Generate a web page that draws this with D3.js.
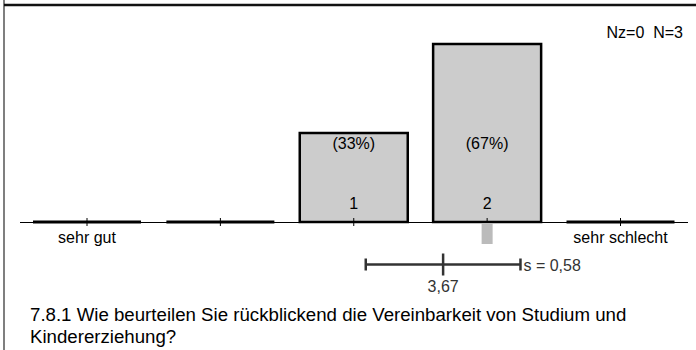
<!DOCTYPE html>
<html><head><meta charset="utf-8">
<script src="https://cdn.jsdelivr.net/npm/d3@7"></script>
<style>body{margin:0;background:#fff}svg{display:block;font-family:"Liberation Sans",Arial,sans-serif}</style>
</head><body><svg id="c" width="696" height="350"></svg>
<script>
const categories = [1, 2, 3, 4, 5];
const counts = [0, 0, 1, 2, 0];
const percents = ["", "", "(33%)", "(67%)", ""];
const endLabels = ["sehr gut", "", "", "", "sehr schlecht"];
const meanValue = [3.67];
const sdValue = [0.58];
const medianValue = [4];
const nInfo = ["Nz=0  N=3"];
const titleLines = ["7.8.1 Wie beurteilen Sie rückblickend die Vereinbarkeit von Studium und", "Kindererziehung?"];

const svg = d3.select("#c");
const x = d3.scaleLinear().domain([1, 5]).range([87, 620.5]);
const bw = 108;
const y = d3.scaleLinear().domain([0, 2]).range([222, 44]);
const base = y(0);

// frame
svg.append("line").attr("x1", 4).attr("x2", 4).attr("y1", 0).attr("y2", 350).attr("stroke", "#555").attr("stroke-width", 1.5);
svg.append("line").attr("x1", 4).attr("x2", 696).attr("y1", 5).attr("y2", 5).attr("stroke", "#111").attr("stroke-width", 2.5);

// axis baseline
svg.append("line").attr("x1", 20).attr("x2", 688).attr("y1", base + 0.5).attr("y2", base + 0.5).attr("stroke", "#000").attr("stroke-width", 1);

// bars
const data = categories.map((c, i) => ({c, n: counts[i], p: percents[i], lab: endLabels[i]}));
svg.selectAll("rect.bar").data(data.filter(d => d.n > 0)).join("rect")
  .attr("class", "bar")
  .attr("x", d => x(d.c) - bw / 2).attr("width", bw)
  .attr("y", d => y(d.n)).attr("height", d => base - y(d.n))
  .attr("fill", "#cccccc").attr("stroke", "#000").attr("stroke-width", 2.5);
// zero-category thick segments
svg.selectAll("line.zero").data(data.filter(d => d.n === 0)).join("line")
  .attr("x1", d => x(d.c) - bw / 2).attr("x2", d => x(d.c) + bw / 2)
  .attr("y1", base).attr("y2", base).attr("stroke", "#000").attr("stroke-width", 3);
// ticks
svg.selectAll("line.tick").data(data).join("line")
  .attr("x1", d => x(d.c)).attr("x2", d => x(d.c))
  .attr("y1", base - 4).attr("y2", base + 4).attr("stroke", "#000").attr("stroke-width", 1);

// count labels
svg.selectAll("text.cnt").data(data.filter(d => d.n > 0)).join("text")
  .attr("x", d => x(d.c)).attr("y", 209).attr("text-anchor", "middle")
  .attr("font-size", 16).attr("fill", "#000").text(d => d.n);
// percent labels
svg.selectAll("text.pct").data(data.filter(d => d.p)).join("text")
  .attr("x", d => x(d.c)).attr("y", 149).attr("text-anchor", "middle")
  .attr("font-size", 16).attr("fill", "#000").text(d => d.p);
// end labels
svg.selectAll("text.end").data(data.filter(d => d.lab)).join("text")
  .attr("x", d => x(d.c)).attr("y", 243).attr("text-anchor", "middle")
  .attr("font-size", 16).attr("fill", "#000").text(d => d.lab);

// median marker
svg.append("rect").attr("x", x(medianValue[0]) - 5.5).attr("width", 11)
  .attr("y", base + 1).attr("height", 21).attr("fill", "#bbbbbb");

// mean +/- sd
const sy = 264.5;
const m = meanValue[0], s = sdValue[0];
const col = "#333";
svg.append("line").attr("x1", x(m - s)).attr("x2", x(m + s)).attr("y1", sy).attr("y2", sy).attr("stroke", col).attr("stroke-width", 2.5);
[m - s, m + s].forEach(v => svg.append("line").attr("x1", x(v)).attr("x2", x(v)).attr("y1", sy - 6).attr("y2", sy + 6).attr("stroke", col).attr("stroke-width", 2.5));
svg.append("line").attr("x1", x(m)).attr("x2", x(m)).attr("y1", sy - 11).attr("y2", sy + 11).attr("stroke", col).attr("stroke-width", 2.5);
svg.append("text").attr("x", x(m + s) + 3).attr("y", sy + 6.5).attr("font-size", 16).attr("fill", "#333").text("s = " + String(s).replace(".", ","));
svg.append("text").attr("x", x(m)).attr("y", 292).attr("text-anchor", "middle").attr("font-size", 16).attr("fill", "#333").text(String(m).replace(".", ","));

// N info
svg.append("text").attr("x", 683).attr("y", 38).attr("text-anchor", "end").attr("font-size", 16).attr("fill", "#000").style("white-space", "pre").text(nInfo[0]);

// title
svg.selectAll("text.title").data(titleLines).join("text")
  .attr("x", 30).attr("y", (d, i) => 321 + i * 22).attr("font-size", 18.67).attr("fill", "#000").text(d => d);
</script></body></html>
